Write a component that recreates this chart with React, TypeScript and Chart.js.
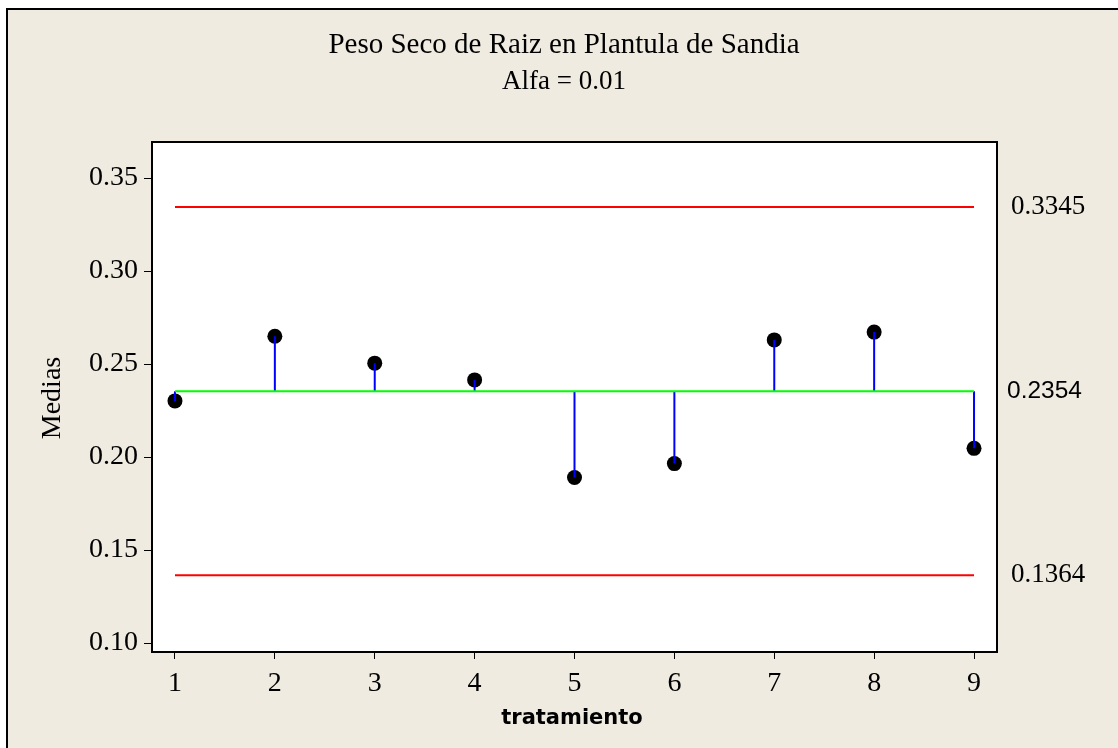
import React, { useEffect, useRef } from "react";
import { Chart, registerables } from "chart.js";

Chart.register(...registerables);

const treatments = [1, 2, 3, 4, 5, 6, 7, 8, 9];
const means = [0.2302, 0.2650, 0.2505, 0.2415, 0.1890, 0.1965, 0.2630, 0.2672, 0.2047];
const centerLine = 0.2354;
const upperLimit = 0.3345;
const lowerLimit = 0.1364;
const yTickValues = [0.1, 0.15, 0.2, 0.25, 0.3, 0.35];
const titleText = "Peso Seco de Raiz en Plantula de Sandia";
const subtitleText = "Alfa = 0.01";
const yAxisTitle = "Medias";
const xAxisTitle = "tratamiento";

const BG = "#EFEBE1";
const SERIF = "'Liberation Serif', 'Times New Roman', serif";

export default function App() {
  const ref = useRef<HTMLCanvasElement | null>(null);

  useEffect(() => {
    if (!ref.current) return;
    const first = treatments[0];
    const last = treatments[treatments.length - 1];

    const stemData: any[] = [];
    treatments.forEach((t, i) => {
      stemData.push({ x: t, y: centerLine });
      stemData.push({ x: t, y: means[i] });
      stemData.push({ x: t, y: null });
    });

    const decor = {
      id: "decor",
      beforeDraw(chart: any) {
        const { ctx, chartArea: a } = chart;
        ctx.save();
        ctx.fillStyle = "#ffffff";
        ctx.fillRect(0, 0, chart.width, chart.height);
        ctx.fillStyle = BG;
        ctx.fillRect(7, 9, chart.width, chart.height);
        ctx.strokeStyle = "#000";
        ctx.lineWidth = 2;
        ctx.strokeRect(7, 9, chart.width + 10, chart.height + 10);
        ctx.fillStyle = "#ffffff";
        ctx.fillRect(a.left, a.top, a.right - a.left, a.bottom - a.top);
        ctx.restore();
      },
      afterDraw(chart: any) {
        const { ctx, chartArea: a, scales } = chart;
        const ys = scales.y;
        ctx.save();
        ctx.strokeStyle = "#000";
        ctx.lineWidth = 2;
        ctx.strokeRect(a.left, a.top, a.right - a.left, a.bottom - a.top);

        ctx.fillStyle = "#000";
        ctx.textAlign = "center";
        ctx.textBaseline = "alphabetic";
        ctx.font = `29px ${SERIF}`;
        ctx.fillText(titleText, 564, 53);
        ctx.font = `27px ${SERIF}`;
        ctx.fillText(subtitleText, 564, 89);

        ctx.font = `bold 21px 'DejaVu Sans', sans-serif`;
        ctx.fillText(xAxisTitle, 572, 724);

        ctx.save();
        ctx.translate(53, 398);
        ctx.rotate(-Math.PI / 2);
        ctx.font = `28px ${SERIF}`;
        ctx.textBaseline = "middle";
        ctx.fillText(yAxisTitle, 0, 0);
        ctx.restore();

        ctx.textAlign = "left";
        ctx.textBaseline = "middle";
        ctx.font = `27px ${SERIF}`;
        ctx.fillText(upperLimit.toFixed(4), 1011, ys.getPixelForValue(upperLimit));
        ctx.fillText(lowerLimit.toFixed(4), 1011, ys.getPixelForValue(lowerLimit));
        ctx.font = `24.5px 'Liberation Sans', sans-serif`;
        ctx.fillText(centerLine.toFixed(4), 1007, ys.getPixelForValue(centerLine));
        ctx.restore();
      },
    };

    const chart = new Chart(ref.current, {
      type: "line",
      data: {
        datasets: [
          {
            label: "UCL",
            data: [{ x: first, y: upperLimit }, { x: last, y: upperLimit }],
            borderColor: "#FF0000",
            borderWidth: 2,
            pointRadius: 0,
          },
          {
            label: "LCL",
            data: [{ x: first, y: lowerLimit }, { x: last, y: lowerLimit }],
            borderColor: "#FF0000",
            borderWidth: 2,
            pointRadius: 0,
          },
          {
            label: "Center",
            data: [{ x: first, y: centerLine }, { x: last, y: centerLine }],
            borderColor: "#00FF00",
            borderWidth: 2,
            pointRadius: 0,
          },
          {
            label: "Stems",
            data: stemData,
            borderColor: "#0000FF",
            borderWidth: 2,
            pointRadius: 0,
            spanGaps: false,
          },
          {
            label: "Medias",
            data: treatments.map((t, i) => ({ x: t, y: means[i] })),
            showLine: false,
            pointRadius: 7.5,
            pointBackgroundColor: "#000",
            pointBorderColor: "#000",
            pointBorderWidth: 0,
          },
        ],
      },
      options: {
        animation: false,
        responsive: false,
        layout: { padding: { top: 142, right: 121, left: 0, bottom: 0 } },
        plugins: {
          legend: { display: false },
          tooltip: { enabled: false },
          title: { display: false },
        },
        scales: {
          x: {
            type: "linear",
            min: 0.77,
            max: 9.23,
            afterBuildTicks: (s: any) => {
              s.ticks = treatments.map((v) => ({ value: v }));
            },
            afterFit: (s: any) => {
              s.height = 96;
            },
            grid: {
              display: true,
              drawOnChartArea: false,
              drawTicks: true,
              tickLength: 7,
              color: "#000",
              lineWidth: 1,
            },
            border: { display: true, color: "#000", width: 2 },
            ticks: {
              color: "#000",
              font: { family: SERIF, size: 28 },
              padding: 8,
              maxRotation: 0,
              callback: (v: any) => String(v),
            },
          },
          y: {
            type: "linear",
            min: 0.0952,
            max: 0.3694,
            afterBuildTicks: (s: any) => {
              s.ticks = yTickValues.map((v) => ({ value: v }));
            },
            afterFit: (s: any) => {
              s.width = 152;
            },
            grid: {
              display: true,
              drawOnChartArea: false,
              drawTicks: true,
              tickLength: 8,
              color: "#000",
              lineWidth: 1,
            },
            border: { display: true, color: "#000", width: 2 },
            ticks: {
              color: "#000",
              font: { family: SERIF, size: 28 },
              padding: 6,
              callback: (v: any) => Number(v).toFixed(2),
            },
          },
        },
      },
      plugins: [decor],
    } as any);

    return () => chart.destroy();
  }, []);

  return (
    <div style={{ position: "fixed", left: 0, top: 0, width: 1118, height: 748 }}>
      <canvas ref={ref} width={1118} height={748} style={{ width: 1118, height: 748, display: "block" }} />
    </div>
  );
}
